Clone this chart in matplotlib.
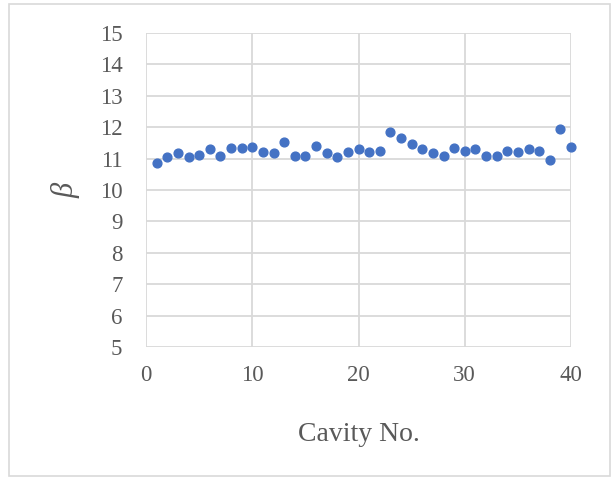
import matplotlib
matplotlib.use("Agg")
from matplotlib import pyplot as plt
from matplotlib.patches import Rectangle

cavity = list(range(1, 41))
beta = [10.85, 11.04, 11.17, 11.04, 11.13, 11.29, 11.09, 11.33, 11.33, 11.37,
        11.20, 11.17, 11.53, 11.09, 11.09, 11.40, 11.17, 11.04, 11.20, 11.29,
        11.20, 11.24, 11.86, 11.66, 11.45, 11.29, 11.17, 11.09, 11.33, 11.24,
        11.29, 11.09, 11.09, 11.24, 11.20, 11.29, 11.24, 10.96, 11.95, 11.37]
x_ticks = [0, 10, 20, 30, 40]
y_ticks = list(range(5, 16))

grid_col = '#D9D9D9'
text_col = '#595959'
font = ['Liberation Serif', 'DejaVu Serif']

fig = plt.figure(figsize=(6.13, 4.79), dpi=100)
W, H = 613, 479
ax = fig.add_axes([146 / W, 1 - 347 / H, (571 - 146) / W, (347 - 33) / H])

# outer chart border
fig.patches.append(Rectangle((9 / W, 3 / H), 601 / W, 472 / H, transform=fig.transFigure,
                             fill=False, edgecolor=grid_col, linewidth=1.2))

ax.scatter(cavity, beta, s=40, color='#4472C4', zorder=3, clip_on=False)

ax.set_xlim(0, 40)
ax.set_ylim(5, 15)
ax.set_xticks(x_ticks)
ax.set_yticks(y_ticks)
ax.grid(True, color=grid_col, linewidth=1.3)
ax.set_axisbelow(True)
for s in ax.spines.values():
    s.set_visible(False)
ax.tick_params(length=0, labelsize=16.5, labelcolor=text_col)
ax.tick_params(axis='y', pad=17)
ax.tick_params(axis='x', pad=13)
for lab in ax.get_xticklabels() + ax.get_yticklabels():
    lab.set_family(font)

ax.set_xlabel('Cavity No.', fontsize=20, color=text_col, family=font, labelpad=26)
ax.set_ylabel('β', fontsize=22, color=text_col, family=font, style='italic', labelpad=14)

fig.savefig('out.png', dpi=100)
